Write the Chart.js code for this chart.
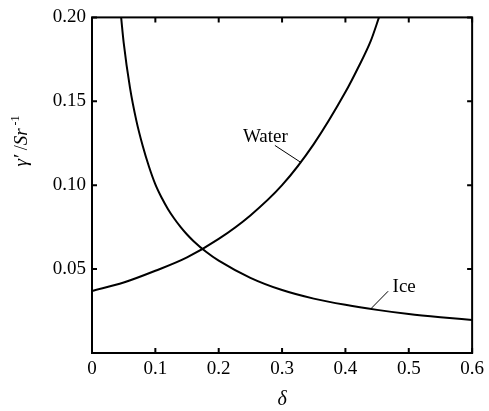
<!DOCTYPE html>
<html>
<head>
<meta charset="utf-8">
<script src="https://cdn.jsdelivr.net/npm/chart.js@4"></script>
<style>
  html, body { margin: 0; padding: 0; background: #fff; }
  #wrap { width: 489px; height: 411px; }
</style>
</head>
<body>
<div id="wrap"><canvas id="gammaChart" width="489" height="411"></canvas></div>
<script>
const FONT = '"Liberation Serif", "Times New Roman", serif';

// values
const iceDelta = [0.046, 0.05, 0.06, 0.07, 0.08, 0.09, 0.10, 0.11, 0.12, 0.13, 0.14, 0.15, 0.16, 0.18, 0.20, 0.25, 0.30, 0.35, 0.40, 0.45, 0.50, 0.55, 0.60];
const iceGamma = [0.200, 0.185, 0.158, 0.1385, 0.1235, 0.111, 0.1005, 0.0925, 0.0857, 0.0800, 0.0750, 0.0706, 0.0668, 0.0603, 0.0550, 0.0448, 0.0375, 0.0324, 0.0287, 0.0257, 0.0232, 0.0213, 0.0197];

const waterDelta = [0, 0.05, 0.10, 0.15, 0.20, 0.25, 0.30, 0.35, 0.40, 0.42, 0.44, 0.453];
const waterGamma = [0.037, 0.042, 0.049, 0.057, 0.068, 0.082, 0.100, 0.1245, 0.1555, 0.170, 0.186, 0.200];

const xTicks = [0, 0.1, 0.2, 0.3, 0.4, 0.5, 0.6];
const yTicks = [0, 0.05, 0.10, 0.15, 0.20];

// curve labels with leader lines (data coords)
const curveLabels = [
  { text: 'Water', x: 0.2736, y: 0.1286, from: [0.2887, 0.1237], to: [0.330, 0.1135] },
  { text: 'Ice', x: 0.4928, y: 0.0395, from: [0.4674, 0.0368], to: [0.440, 0.0263] }
];

function toPoints(xs, ys) {
  return xs.map((x, i) => ({ x: x, y: ys[i] }));
}

const framePlugin = {
  id: 'frame',
  afterDatasetsDraw(chart) {
    const ctx = chart.ctx;
    const a = chart.chartArea;
    const xs = chart.scales.x;
    const ys = chart.scales.y;
    ctx.save();
    ctx.strokeStyle = '#000';
    ctx.lineWidth = 2;
    ctx.strokeRect(a.left, a.top, a.right - a.left, a.bottom - a.top);

    // inward ticks on all four sides
    const len = 5;
    ctx.beginPath();
    xTicks.forEach(v => {
      const px = xs.getPixelForValue(v);
      ctx.moveTo(px, a.bottom); ctx.lineTo(px, a.bottom - len);
      ctx.moveTo(px, a.top); ctx.lineTo(px, a.top + len);
    });
    yTicks.forEach(v => {
      const py = ys.getPixelForValue(v);
      ctx.moveTo(a.left, py); ctx.lineTo(a.left + len, py);
      ctx.moveTo(a.right, py); ctx.lineTo(a.right - len, py);
    });
    ctx.stroke();

    // curve labels
    ctx.lineWidth = 1;
    ctx.fillStyle = '#000';
    ctx.font = '19px ' + FONT;
    ctx.textAlign = 'center';
    ctx.textBaseline = 'middle';
    curveLabels.forEach(l => {
      ctx.beginPath();
      ctx.moveTo(xs.getPixelForValue(l.from[0]), ys.getPixelForValue(l.from[1]));
      ctx.lineTo(xs.getPixelForValue(l.to[0]), ys.getPixelForValue(l.to[1]));
      ctx.stroke();
      ctx.fillText(l.text, xs.getPixelForValue(l.x), ys.getPixelForValue(l.y));
    });

    // x title
    ctx.font = 'italic 20px ' + FONT;
    ctx.fillText('δ', (a.left + a.right) / 2, 400);

    // y title, rotated, with superscript
    ctx.translate(22, 141);
    ctx.rotate(-Math.PI / 2);
    ctx.textAlign = 'left';
    const parts = [
      { t: 'γ′', f: 'italic 19px ', dy: 0 },
      { t: ' /', f: '18px ', dy: 0 },
      { t: 'Sr', f: 'italic 19px ', dy: 0 },
      { t: ' -1', f: '12px ', dy: -6 }
    ];
    let total = 0;
    parts.forEach(p => { ctx.font = p.f + FONT; total += ctx.measureText(p.t).width; });
    let cx = -total / 2;
    parts.forEach(p => {
      ctx.font = p.f + FONT;
      ctx.fillText(p.t, cx, p.dy);
      cx += ctx.measureText(p.t).width;
    });
    ctx.restore();
  }
};

function initChart() {
  const ctx = document.getElementById('gammaChart').getContext('2d');
  new Chart(ctx, {
    type: 'scatter',
    data: {
      datasets: [
        {
          label: 'Ice',
          data: toPoints(iceDelta, iceGamma),
          showLine: true,
          borderColor: '#000',
          borderWidth: 2,
          pointRadius: 0,
          cubicInterpolationMode: 'monotone'
        },
        {
          label: 'Water',
          data: toPoints(waterDelta, waterGamma),
          showLine: true,
          borderColor: '#000',
          borderWidth: 2,
          pointRadius: 0,
          cubicInterpolationMode: 'monotone'
        }
      ]
    },
    options: {
      responsive: false,
      animation: false,
      layout: { padding: { top: 14, right: 11, left: 0, bottom: 0 } },
      plugins: {
        legend: { display: false },
        tooltip: { enabled: false }
      },
      scales: {
        x: {
          type: 'linear',
          min: 0,
          max: 0.6,
          grid: { display: false, drawTicks: false },
          border: { display: false },
          afterBuildTicks: s => { s.ticks = xTicks.map(v => ({ value: v })); },
          afterFit: s => { s.height = 58; },
          ticks: {
            color: '#000',
            padding: 5,
            maxRotation: 0,
            font: { family: FONT, size: 19 },
            callback: v => (v === 0 ? '0' : v.toFixed(1))
          }
        },
        y: {
          type: 'linear',
          min: 0,
          max: 0.2,
          grid: { display: false, drawTicks: false },
          border: { display: false },
          afterBuildTicks: s => { s.ticks = yTicks.map(v => ({ value: v })); },
          afterFit: s => { s.width = 92; },
          ticks: {
            color: '#000',
            padding: 6,
            font: { family: FONT, size: 19 },
            callback: v => (v === 0 ? '' : v.toFixed(2))
          }
        }
      }
    },
    plugins: [framePlugin]
  });
}

document.addEventListener('DOMContentLoaded', initChart);
</script>
</body>
</html>
